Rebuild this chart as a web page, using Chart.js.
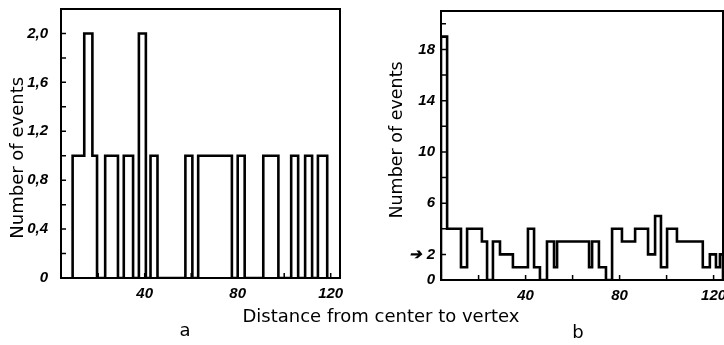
<!DOCTYPE html>
<html>
<head>
<meta charset="utf-8">
<script src="https://cdn.jsdelivr.net/npm/chart.js@4.4.1/dist/chart.umd.min.js"></script>
<style>
  html, body { margin:0; padding:0; background:#fff; width:724px; height:345px; overflow:hidden; position:relative; }
  .panel { position:absolute; top:0; }
  #wrapA { left:0; }
  #wrapB { left:360px; }
  .txt { position:absolute; font-family:"DejaVu Sans", sans-serif; font-size:18px; line-height:20px; color:#000; white-space:nowrap; transform:translateX(-50%); }
</style>
</head>
<body>
<div class="panel" id="wrapA"><canvas id="chartA" width="360" height="345"></canvas></div>
<div class="panel" id="wrapB"><canvas id="chartB" width="380" height="345"></canvas></div>
<div class="txt" style="left:381px; top:306px;">Distance from center to vertex</div>
<div class="txt" style="left:185px; top:320px;">a</div>
<div class="txt" style="left:578px; top:322px;">b</div>
<script>
// ---- shared x axis ----
const xMin = 4, xMax = 124;
const xTicks  = [20, 40, 60, 80, 100, 120];
const xLabels = ["", "40", "", "80", "", "120"];

// ---- panel a (bin edges + counts between them) ----
const edgesA  = [9, 14, 17.5, 19.5, 23, 28.5, 31, 35, 37.5, 40.5, 42.5, 45.5, 57.5, 60.5,
                 63, 77.5, 80, 83, 91, 97.5, 103, 106, 109, 112, 114.5, 118.5];
const countsA = [1, 2, 1, 0, 1, 0, 1, 0, 2, 0, 1, 0, 1, 0, 1, 0, 1, 0, 1, 0, 1, 0, 1, 0, 1];
const yTicksA  = [0, 0.2, 0.4, 0.6, 0.8, 1.0, 1.2, 1.4, 1.6, 1.8, 2.0];
const yLabelsA = ["0", "", "0,4", "", "0,8", "", "1,2", "", "1,6", "", "2,0"];

// ---- panel b ----
const edgesB  = [4, 6.6, 12.5, 15.1, 21.4, 23.6, 26.1, 29.1, 34.6, 41, 43.6, 46.1, 49.1, 52.1,
                 53.4, 67, 68.3, 71.2, 74.2, 76.8, 81, 86.6, 92.1, 95.1, 97.6, 100.2, 104.4,
                 115.4, 118.4, 121, 122.7, 124];
const countsB = [19, 4, 1, 4, 3, 0, 3, 2, 1, 4, 1, 0, 3, 1, 3, 1, 3, 1, 0, 4, 3, 4, 2, 5,
                 1, 4, 3, 1, 2, 1, 2];
const yTicksB  = [0, 2, 4, 6, 8, 10, 12, 14, 16, 18, 20];
const yLabelsB = ["0", "\u2794 2", "", "6", "", "10", "", "14", "", "18", ""];

const tickFont = { family: "Liberation Sans", size: 15, style: "italic", weight: "bold" };
const NB = "\u00a0";

// histogram outline -> step points
function stepPoints(edges, counts) {
  const pts = [{ x: edges[0], y: 0 }];
  counts.forEach((c, i) => pts.push({ x: edges[i], y: c }));
  pts.push({ x: edges[edges.length - 1], y: 0 });
  return pts;
}

// box frame + inward tick marks
const framePlugin = {
  id: "frame",
  afterDatasetsDraw(chart) {
    const { ctx, chartArea: a, scales: { x, y } } = chart;
    ctx.save();
    ctx.strokeStyle = "#000";
    ctx.lineWidth = 2;
    ctx.strokeRect(a.left, a.top, a.right - a.left, a.bottom - a.top);
    ctx.lineWidth = 1.5;
    ctx.beginPath();
    x.ticks.forEach(t => {
      const px = x.getPixelForValue(t.value);
      ctx.moveTo(px, a.bottom); ctx.lineTo(px, a.bottom - 5);
    });
    y.ticks.forEach(t => {
      const py = y.getPixelForValue(t.value);
      ctx.moveTo(a.left, py); ctx.lineTo(a.left + 5, py);
    });
    ctx.stroke();
    ctx.restore();
  }
};

function makeChart(id, pts, o) {
  return new Chart(document.getElementById(id), {
    type: "line",
    data: {
      datasets: [{
        data: pts,
        stepped: true,
        borderColor: "#000",
        borderWidth: 2.6,
        borderJoinStyle: "miter",
        pointRadius: 0,
        fill: false,
        tension: 0
      }]
    },
    options: {
      responsive: false,
      animation: false,
      events: [],
      layout: { padding: o.pad },
      plugins: { legend: { display: false }, tooltip: { enabled: false } },
      scales: {
        x: {
          type: "linear",
          min: xMin, max: xMax,
          grid: { display: false, drawTicks: false },
          border: { display: false },
          afterBuildTicks: s => { s.ticks = xTicks.map(v => ({ value: v })); },
          afterFit: s => { s.height = 40; s.paddingLeft = 0; s.paddingRight = 0; },
          ticks: {
            autoSkip: false, maxRotation: 0, padding: 7, color: "#000", font: tickFont,
            callback: (v, i) => xLabels[i]
          }
        },
        y: {
          min: 0, max: o.yMax,
          grid: { display: false, drawTicks: false },
          border: { display: false },
          afterBuildTicks: s => { s.ticks = o.yTicks.map(v => ({ value: v })); },
          afterFit: s => { s.width = o.yWidth; s.paddingTop = 0; s.paddingBottom = 0; },
          ticks: {
            autoSkip: false, padding: o.yPad, color: "#000", font: tickFont,
            callback: (v, i) => o.yLabels[i]
          },
          title: {
            display: true, text: o.title, color: "#000",
            font: { family: "DejaVu Sans", size: o.titleSize },
            padding: { top: o.titlePad, bottom: 0 }
          }
        }
      }
    },
    plugins: [framePlugin]
  });
}

// nbsp padding nudges the rotated titles along the axis, as in the scan
makeChart("chartA", stepPoints(edgesA, countsA), {
  pad: { top: 9, right: 20, bottom: 27, left: 0 },
  yMax: 2.2, yTicks: yTicksA, yLabels: yLabelsA,
  yWidth: 61, yPad: 13,
  title: "Number of events" + NB.repeat(5), titleSize: 18, titlePad: 8
});

makeChart("chartB", stepPoints(edgesB, countsB), {
  pad: { top: 11, right: 17, bottom: 25, left: 0 },
  yMax: 21, yTicks: yTicksB, yLabels: yLabelsB,
  yWidth: 81, yPad: 6,
  title: NB.repeat(2) + "Number of events", titleSize: 17.5, titlePad: 27
});
</script>
</body>
</html>
